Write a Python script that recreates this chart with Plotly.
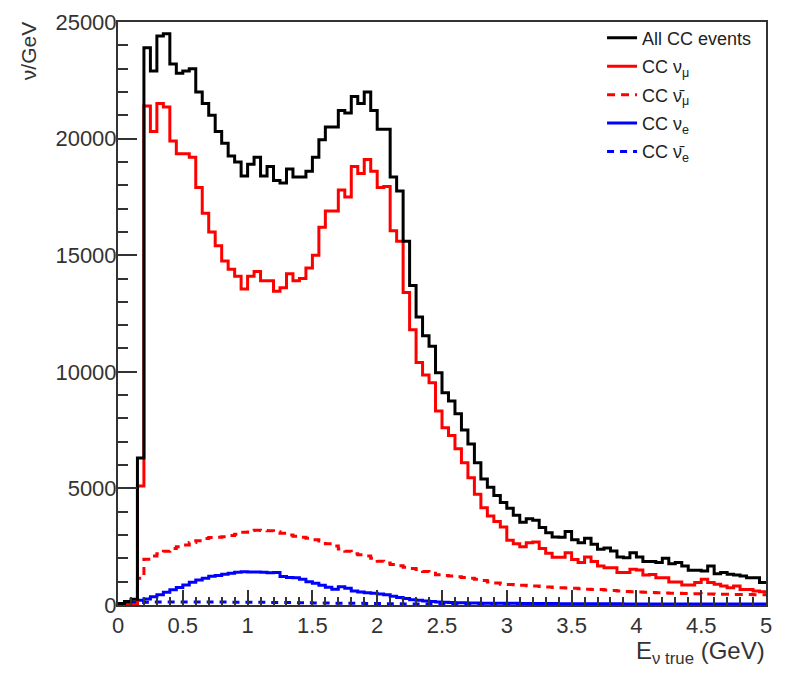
"""Neutrino CC event spectra, ROOT-style step histograms redrawn with plotly."""
import numpy as np
import plotly.graph_objects as go

# 100 bins of 0.05 GeV from 0 to 5 GeV
E_MIN, E_MAX, N_BINS = 0.0, 5.0, 100

all_cc = [60, 150, 250, 6300, 23900, 22900, 24400, 24500, 23200, 22800,
          22900, 23000, 22000, 21500, 21000, 20300, 19800, 19250, 19000, 18400,
          18900, 19200, 18400, 18800, 18200, 18100, 18700, 18350, 18350, 18600,
          19200, 19950, 20500, 20500, 21200, 21100, 21800, 21500, 22000, 21200,
          20400, 20400, 18350, 17750, 15600, 13700, 12350, 11550, 11100, 9960,
          9100, 8750, 8200, 7500, 6900, 6100, 5400, 5050, 4700, 4400,
          4150, 3850, 3550, 3700, 3630, 3320, 3100, 2920, 2900, 3150,
          2800, 2670, 2860, 2600, 2390, 2440, 2320, 2060, 2030, 2240,
          2060, 1860, 1860, 1820, 2000, 1770, 1820, 1670, 1490, 1490,
          1460, 1670, 1340, 1390, 1320, 1290, 1240, 1170, 1170, 960]

cc_numu = [0, 0, 0, 5100, 21400, 20300, 21500, 21350, 19900, 19350,
           19350, 19200, 17900, 16800, 16000, 15400, 14750, 14400, 14100, 13550,
           14100, 14300, 13900, 13900, 13450, 13600, 14200, 13900, 14000, 14450,
           15000, 16200, 16900, 16900, 17800, 17500, 18800, 18500, 19100, 18600,
           17900, 17950, 16050, 15600, 13400, 11800, 10400, 9860, 9530, 8320,
           7600, 7270, 6700, 6100, 5460, 4750, 4170, 3820, 3580, 3350,
           2780, 2630, 2500, 2670, 2700, 2420, 2220, 2050, 2050, 2240,
           1950, 1820, 2060, 1860, 1670, 1600, 1600, 1390, 1390, 1530,
           1500, 1290, 1310, 1170, 1170, 990, 990, 860, 860, 960,
           1100, 960, 890, 810, 740, 810, 670, 670, 600, 570]

cc_numubar = [0, 0, 0, 1150, 1960, 2100, 2200, 2300, 2420, 2500,
              2570, 2680, 2760, 2850, 2890, 2910, 2930, 2980, 3030, 3120,
              3200, 3210, 3200, 3180, 3140, 3080, 3000, 2950, 2900, 2860,
              2800, 2740, 2630, 2530, 2400, 2300, 2200, 2150, 2100, 2000,
              1880, 1800, 1740, 1680, 1620, 1570, 1520, 1440, 1360, 1300,
              1270, 1240, 1210, 1180, 1150, 1100, 1050, 990, 940, 890,
              880, 870, 850, 830, 810, 790, 770, 750, 740, 730,
              720, 700, 680, 670, 660, 640, 620, 600, 580, 570,
              560, 550, 540, 520, 510, 500, 500, 490, 480, 480,
              470, 470, 460, 460, 460, 450, 450, 450, 440, 440]

cc_nue = [20, 60, 120, 200, 260, 350, 440, 550, 650, 750,
          860, 980, 1070, 1150, 1230, 1270, 1320, 1360, 1400, 1430,
          1420, 1420, 1400, 1380, 1390, 1220, 1180, 1170, 1100, 1000,
          930, 850, 760, 680, 780, 720, 600, 560, 530, 500,
          470, 440, 380, 320, 280, 220, 200, 170, 150, 130,
          120, 110, 100, 100, 90, 90, 80, 80, 80, 70,
          70, 70, 60, 60, 60, 60, 60, 60, 50, 50,
          50, 50, 50, 50, 50, 50, 50, 50, 40, 40,
          40, 40, 40, 40, 40, 40, 40, 40, 40, 40,
          40, 40, 40, 40, 40, 40, 40, 40, 40, 40]

cc_nuebar = [30, 60, 90, 110, 120, 125, 130, 130, 130, 130,
             130, 130, 130, 130, 125, 125, 125, 120, 120, 120,
             120, 115, 115, 110, 110, 110, 105, 100, 100, 95,
             90, 90, 85, 80, 80, 75, 70, 70, 65, 60,
             60, 55, 50, 50, 45, 45, 40, 40, 35, 35,
             30, 30, 30, 30, 25, 25, 25, 25, 25, 20,
             20, 20, 20, 20, 20, 20, 20, 20, 20, 20,
             15, 15, 15, 15, 15, 15, 15, 15, 15, 15,
             15, 15, 15, 15, 15, 15, 15, 15, 15, 15,
             15, 15, 15, 15, 15, 15, 15, 15, 15, 15]

# (name, values, colour, dash, legend rank); drawn bottom-first so black ends on top
SERIES = [
    ("CC ν̄<sub>e</sub>", cc_nuebar, "#0000ff", "7px,6px", 5),
    ("CC ν<sub>e</sub>", cc_nue, "#0000ff", "solid", 4),
    ("CC ν̄<sub>μ</sub>", cc_numubar, "#ff0000", "8px,6px", 3),
    ("CC ν<sub>μ</sub>", cc_numu, "#ff0000", "solid", 2),
    ("All CC events", all_cc, "#000000", "solid", 1),
]

edges = np.linspace(E_MIN, E_MAX, N_BINS + 1)

fig = go.Figure()
for name, vals, color, dash, rank in SERIES:
    # step outline: value held over each bin, last value repeated at the upper edge
    fig.add_trace(go.Scatter(
        x=list(edges), y=list(vals) + [vals[-1]],
        mode='lines', line_shape='hv', name=name,
        line=dict(color=color, width=3, dash=dash),
        legendgroup=name, legendrank=rank,
    ))

AX = '#333333'
# page body has an 8px margin, so the figure is 8px smaller than the window
fig.update_layout(
    width=797, height=676,
    margin=dict(l=110, r=39, t=14, b=79),
    paper_bgcolor='white', plot_bgcolor='white',
    font=dict(family='Liberation Sans, Arial, sans-serif', color=AX),
    showlegend=True,
    legend=dict(x=0.747, y=1.004, xanchor='left', yanchor='top',
                bgcolor='rgba(0,0,0,0)', traceorder='grouped',
                tracegroupgap=2, itemwidth=30,
                font=dict(size=18, color='#222222')),
    xaxis=dict(range=[E_MIN, E_MAX], showgrid=False, zeroline=False, automargin=False,
               showline=True, linecolor=AX, linewidth=2, mirror=True,
               ticks='inside', ticklen=15, tickwidth=1.5, tickcolor=AX,
               tick0=0, dtick=0.5, tickfont=dict(size=22),
               minor=dict(dtick=0.1, ticks='inside', ticklen=8, tickcolor=AX, tickwidth=1.5)),
    yaxis=dict(range=[0, 25000], showgrid=False, zeroline=False, automargin=False,
               showline=True, linecolor=AX, linewidth=2, mirror=True,
               ticks='inside', ticklen=19, tickwidth=1.5, tickcolor=AX,
               tick0=0, dtick=5000, tickformat='d', tickfont=dict(size=22),
               ticklabelstandoff=-5,
               minor=dict(dtick=1000, ticks='inside', ticklen=10, tickcolor=AX, tickwidth=1.5)),
    annotations=[
        dict(text='E<sub>ν true</sub> (GeV)', xref='paper', yref='paper',
             x=1.002, y=-0.052, xanchor='right', yanchor='top', showarrow=False,
             font=dict(size=24, color=AX)),
        dict(text='ν/GeV', xref='paper', yref='paper', textangle=-90,
             x=-0.139, y=1.003, xanchor='center', yanchor='top', showarrow=False,
             font=dict(size=21, color=AX)),
    ],
)

fig.write_html("out.html")
